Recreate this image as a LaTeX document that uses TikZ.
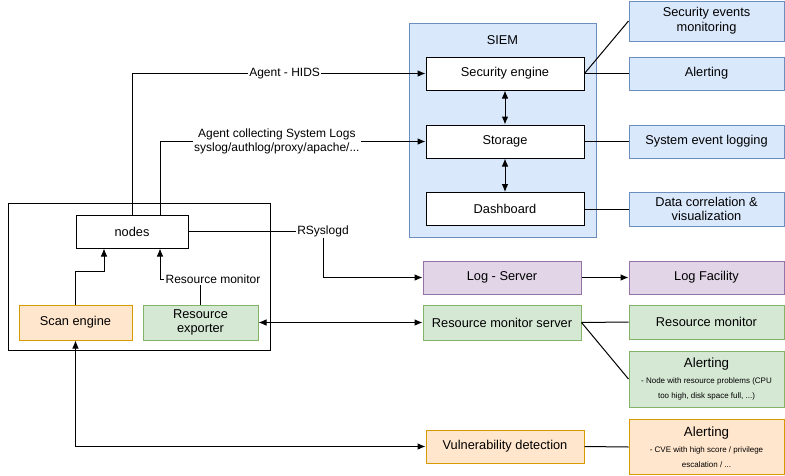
\documentclass[tikz,border=0pt]{standalone}
\usepackage{fontspec}
\setmainfont{Liberation Sans}
\usepackage{tikz}
\usetikzlibrary{positioning,arrows.meta}
\definecolor{siemBlue}{HTML}{DAE8FC}
\definecolor{siemEdge}{HTML}{6C8EBF}
\definecolor{monGreen}{HTML}{D5E8D4}
\definecolor{monEdge}{HTML}{82B366}
\definecolor{vulnOrange}{HTML}{FFE6CC}
\definecolor{vulnEdge}{HTML}{D79B00}
\definecolor{logPurple}{HTML}{E1D5E7}
\definecolor{logEdge}{HTML}{9673A6}

\begin{document}
\begin{tikzpicture}[x=0.75pt, y=-0.75pt, line width=0.75pt,
    box/.style={draw, minimum width=118.5pt, minimum height=24.75pt, inner sep=1pt, align=center, font=\fontsize{9.6}{11}\selectfont},
    side/.style={box, minimum width=116.25pt},
    lbl/.style={fill=white, inner sep=1pt, align=center, font=\fontsize{9}{10.5}\selectfont},
    arr/.style={-{Latex[length=6pt,width=5pt]}},
    dblarr/.style={{Latex[length=6pt,width=5pt]}-{Latex[length=6pt,width=5pt]}}]
    \useasboundingbox (0,0) rectangle (785,475);

    % host side
    \node[draw, minimum width=196.5pt, minimum height=110.25pt] (host) at (139,276.5) {};
    \node[box, minimum width=84pt] (nodes) at (132,231.5) {nodes};
    \node[box, minimum width=84.75pt, minimum height=26.25pt, fill=vulnOrange, draw=vulnEdge] (scan) at (75.5,322.5) {Scan engine};
    \node[box, minimum width=86.25pt, minimum height=26.25pt, fill=monGreen, draw=monEdge] (exporter) at (200.5,322.5) {Resource\\exporter};

    % SIEM
    \node[draw=siemEdge, fill=siemBlue, minimum width=140.25pt, minimum height=160.5pt] (siem) at (502.5,130) {};
    \node[font=\fontsize{9.6}{11}\selectfont] (siemtitle) at (502.5,40) {SIEM};
    \node[box, fill=white] (security) at (505,73.5) {Security engine};
    \node[box, fill=white] (storage) at (505,141.5) {Storage};
    \node[box, fill=white] (dashboard) at (505,209) {Dashboard};

    \foreach \y/\h/\n/\t in {21/30/events/{Security events\\monitoring}, 73.5/24.75/alerting/Alerting, 141.5/24.75/logging/System event logging, 209/25.5/correlation/{Data correlation \&\\visualization}} {
        \node[side, fill=siemBlue, draw=siemEdge, minimum height=\h pt] (\n) at (706.5,\y) {\t};
    }

    % servers
    \node[box, fill=logPurple, draw=logEdge] (logserver) at (502,277.5) {Log - Server};
    \node[side, fill=logPurple, draw=logEdge] (facility) at (706.5,277.5) {Log Facility};
    \node[box, minimum height=26.25pt, fill=monGreen, draw=monEdge] (monserver) at (502,322.5) {Resource monitor server};
    \node[side, minimum height=25.5pt, fill=monGreen, draw=monEdge] (monitor) at (706.5,322) {Resource monitor};
    \node[side, minimum height=42pt, fill=monGreen, draw=monEdge] (monalert) at (706.5,379) {{\fontsize{10}{11}\selectfont Alerting}\\[1pt]{\fontsize{6}{9}\selectfont - Node with resource problems (CPU}\\{\fontsize{6}{9}\selectfont too high, disk space full, ...)}};
    \node[box, fill=vulnOrange, draw=vulnEdge] (vuln) at (505,446.5) {Vulnerability detection};
    \node[side, minimum height=41.25pt, fill=vulnOrange, draw=vulnEdge] (vulnalert) at (706.5,447) {{\fontsize{10}{11}\selectfont Alerting}\\[1pt]{\fontsize{6}{9}\selectfont - CVE with high score / privilege}\\{\fontsize{6}{9}\selectfont escalation / ...}};

    % connectors
    \draw[arr] (nodes.north) |- node[lbl, pos=0.76] {Agent - HIDS} (security.west);
    \draw[arr] ([xshift=21pt]nodes.north) |- node[lbl, pos=0.72] {Agent collecting System Logs\\syslog/authlog/proxy/apache/...} (storage.west);
    \draw[arr] (nodes.east) -- (323,231.5) node[lbl] (rsyslog) {RSyslogd} |- (logserver.west);
    \draw[arr] (scan.north) -- ++(0,-33) -| ([xshift=-21pt]nodes.south);
    \draw[arr] (exporter.north) |- (160,279) -- ([xshift=21pt]nodes.south);
    \node[lbl] (monlabel) at (213,279) {Resource monitor};
    \draw[dblarr] (exporter.east) -- (monserver.west);
    \draw[dblarr] (scan.south) |- (vuln.west);
    \draw[dblarr] (security.south) -- (storage.north);
    \draw[dblarr] (storage.south) -- (dashboard.north);
    \draw (security.east) -- (events.west);
    \draw (security.east) -- (alerting.west);
    \draw (storage.east) -- (logging.west);
    \draw (dashboard.east) -- (correlation.west);
    \draw[arr] (logserver.east) -- (facility.west);
    \draw (monserver.east) -- (monitor.west);
    \draw (monserver.east) -- (monalert.west);
    \draw (vuln.east) -- (vulnalert.west);
\end{tikzpicture}
\end{document}
